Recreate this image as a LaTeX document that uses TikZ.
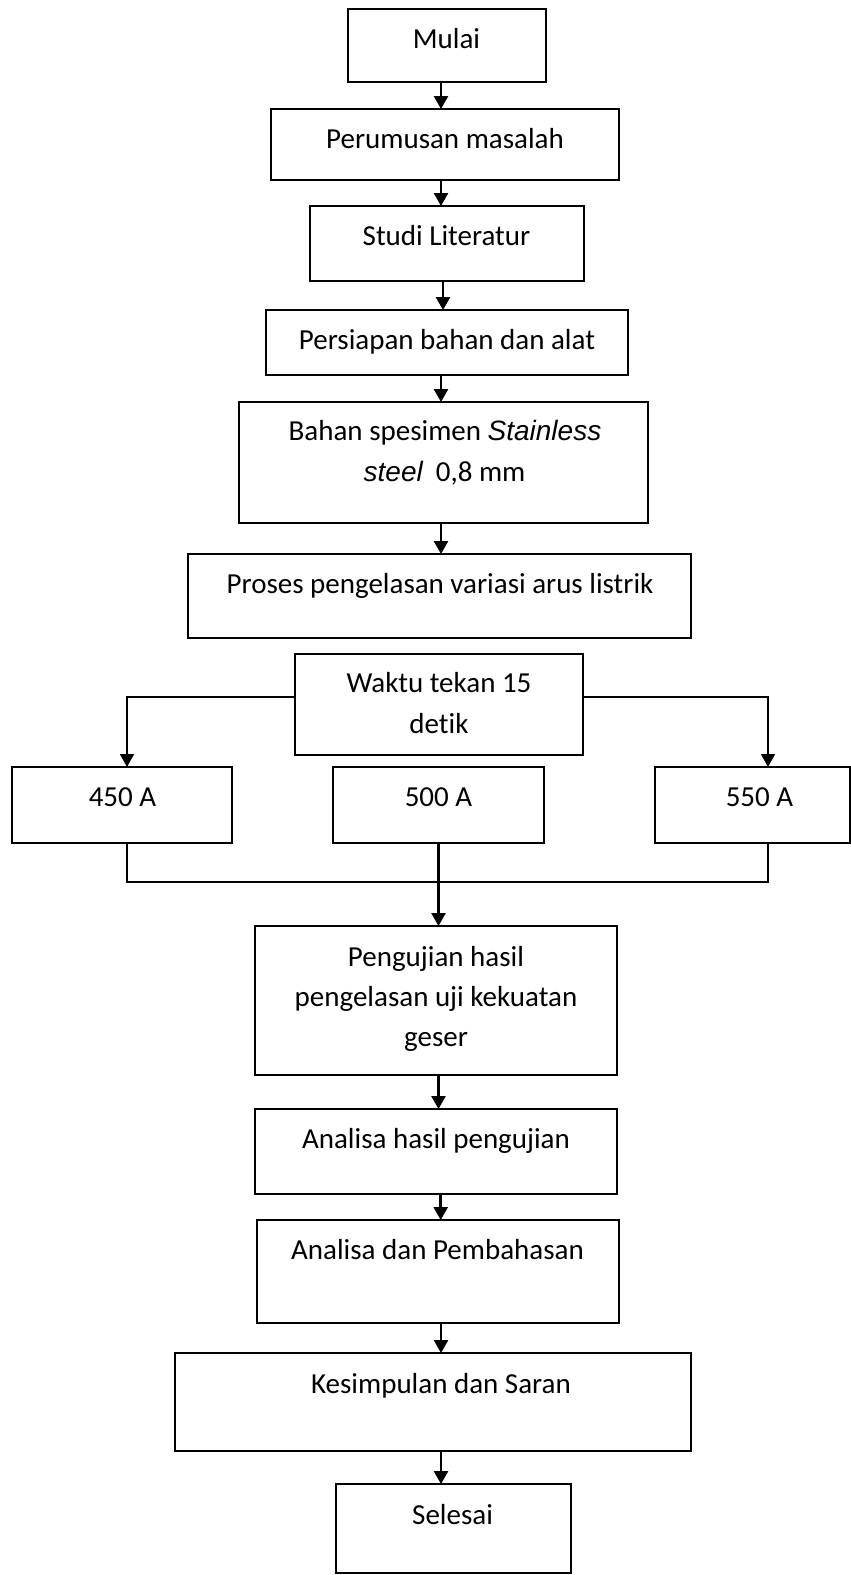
\documentclass[tikz,border=0pt]{standalone}
\usepackage{fontspec}
\setmainfont{Carlito}[Ligatures={NoCommon}]
\newfontfamily\arialf{Liberation Sans}
\usetikzlibrary{arrows.meta}
\begin{document}
\begin{tikzpicture}[x=1pt,y=-1pt,
  box/.style={draw=black, line width=1.8pt, inner sep=0pt, outer sep=0pt, rectangle},
  txt/.style={inner sep=0pt, outer sep=0pt, anchor=base, font=\fontsize{29}{40.5}\selectfont},
  arr/.style={draw=black, line width=2.6pt, -{Triangle[length=13pt,width=14pt]}},
  barr/.style={draw=black, line width=1.7pt, -{Triangle[length=13pt,width=14pt]}},
  conn/.style={draw=black, line width=1.7pt}
]
\useasboundingbox (0,0) rectangle (851,1575);

% boxes
\node[box, minimum width=198pt, minimum height=73pt]  (mulai) at (447,45.5) {};
\node[box, minimum width=348pt, minimum height=71pt]  (perum) at (445,144.5) {};
\node[box, minimum width=274pt, minimum height=75pt]  (studi) at (447,243.5) {};
\node[box, minimum width=362pt, minimum height=65pt]  (siap)  at (447,342.5) {};
\node[box, minimum width=409pt, minimum height=121pt] (bahan) at (443.5,462.5) {};
\node[box, minimum width=503pt, minimum height=84pt]  (proses) at (439.5,596) {};
\node[box, minimum width=288pt, minimum height=101pt] (waktu) at (439,704.5) {};
\node[box, minimum width=220pt, minimum height=76pt]  (bA) at (122,805) {};
\node[box, minimum width=211pt, minimum height=76pt]  (bB) at (438.5,805) {};
\node[box, minimum width=195pt, minimum height=76pt]  (bC) at (752.5,805) {};
\node[box, minimum width=362pt, minimum height=149pt] (uji) at (436,1000.5) {};
\node[box, minimum width=362pt, minimum height=85pt]  (ana) at (436,1151.5) {};
\node[box, minimum width=362pt, minimum height=103pt] (adp) at (438,1271.5) {};
\node[box, minimum width=516pt, minimum height=98pt]  (kes) at (433,1402) {};
\node[box, minimum width=235pt, minimum height=89pt]  (sel) at (453.5,1528.5) {};

% texts
\node[txt] (mulai-t) at (446.5,48.3) {Mulai};
\node[txt] (perum-t) at (445,148.3) {Perumusan masalah};
\node[txt] (studi-t) at (446.5,245) {Studi Literatur};
\node[txt] (siap-t) at (447,349.3) {Persiapan bahan dan alat};
\node[txt] (bahan-t1) at (445,440) {Bahan spesimen {\arialf\itshape\fontsize{28}{40}\selectfont Stainless}};
\node[txt] (bahan-t2) at (444.5,481.7) {{\arialf\itshape\fontsize{28}{40}\selectfont steel}\hspace{13pt}0,8 mm};
\node[txt] (proses-t) at (440,593.3) {Proses pengelasan variasi arus listrik};
\node[txt] (waktu-t1) at (439,692.7) {Waktu tekan 15};
\node[txt] (waktu-t2) at (439,733.3) {detik};
\node[txt] (bA-t) at (122.5,806.7) {450 A};
\node[txt] (bB-t) at (438.5,806.7) {500 A};
\node[txt] (bC-t) at (759.5,806.7) {550 A};
\node[txt] (uji-t1) at (436,966.7) {Pengujian hasil};
\node[txt] (uji-t2) at (436,1006.7) {pengelasan uji kekuatan};
\node[txt] (uji-t3) at (436,1046.7) {geser};
\node[txt] (ana-t) at (436,1148.3) {Analisa hasil pengujian};
\node[txt] (adp-t) at (437.5,1259.3) {Analisa dan Pembahasan};
\node[txt] (kes-t) at (441,1393.3) {Kesimpulan dan Saran};
\node[txt] (sel-t) at (452.6,1524) {Selesai};

% main arrows
\draw[arr] (mulai.south -| 441,0) -- (perum.north -| 441,0);
\draw[arr] (perum.south -| 441,0) -- (studi.north -| 441,0);
\draw[arr] (studi.south -| 443,0) -- (siap.north -| 443,0);
\draw[arr] (siap.south -| 441,0) -- (bahan.north -| 441,0);
\draw[arr] (bahan.south -| 441,0) -- (proses.north -| 441,0);

% branches
\draw[barr] (waktu.west |- 0,697) -| (bA.north -| 127,0);
\draw[barr] (waktu.east |- 0,697) -| (bC.north -| 768,0);
\draw[conn] (bA.south -| 127,0) |- (768,882) -- (bC.south -| 768,0);
\draw[arr] (bB.south -| 438.5,0) -- (uji.north -| 438.5,0);

\draw[arr] (uji.south -| 438.5,0) -- (ana.north -| 438.5,0);
\draw[arr] (ana.south -| 440.7,0) -- (adp.north -| 440.7,0);
\draw[arr] (adp.south -| 441,0) -- (kes.north -| 441,0);
\draw[arr] (kes.south -| 441,0) -- (sel.north -| 441,0);
\end{tikzpicture}
\end{document}
